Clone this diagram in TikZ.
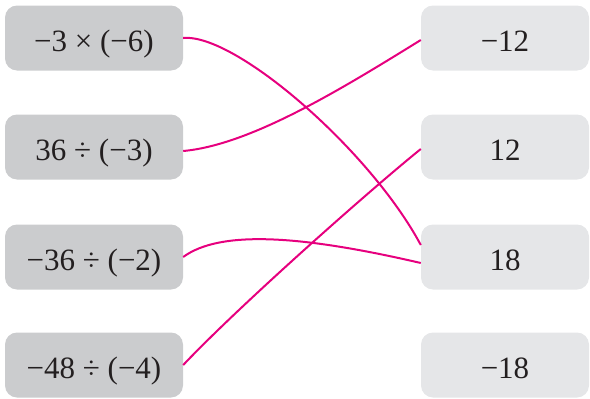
\documentclass[tikz,border=0pt]{standalone}
\usepackage{fontspec}
\setmainfont{Liberation Serif}
\definecolor{leftgray}{HTML}{CBCCCE}
\definecolor{rightgray}{HTML}{E5E6E8}
\definecolor{linkpink}{HTML}{E6007E}
\definecolor{txt}{HTML}{231F20}
\begin{document}
\begin{tikzpicture}[x=1pt,y=-1pt,
  boxtext/.style={inner sep=0pt,text=txt,text height=27pt,text depth=0pt,font=\fontsize{31}{34}\selectfont},
  lbox/.style={boxtext,fill=leftgray,rounded corners=12pt,minimum width=178pt,minimum height=65pt},
  rbox/.style={boxtext,fill=rightgray,rounded corners=12pt,minimum width=168pt,minimum height=65pt},
  link/.style={draw=linkpink,line width=2pt}]
\useasboundingbox (0,0) rectangle (590,399);
\node[lbox] (L1) at (94,38) {−3 × (−6)};
\node[lbox] (L2) at (94,147) {36 ÷ (−3)};
\node[lbox] (L3) at (94,257) {−36 ÷ (−2)};
\node[lbox] (L4) at (94,365) {−48 ÷ (−4)};
\node[rbox] (R1) at (505,38) {−12};
\node[rbox] (R2) at (505,147) {12};
\node[rbox] (R3) at (505,257) {18};
\node[rbox] (R4) at (505,365) {−18};
\coordinate (a1) at (L1.east);
\coordinate (b1) at ([yshift=12pt]R3.west);
\draw[link] (a1) .. controls (235,33) and (370,150) .. (b1);
\coordinate (a2) at ([yshift=-4pt]L2.east);
\coordinate (b2) at ([yshift=-2pt]R1.west);
\draw[link] (a2) .. controls (250,145) and (340,90) .. (b2);
\coordinate (a3) at (L3.east);
\coordinate (b3) at ([yshift=-6pt]R3.west);
\draw[link] (a3) .. controls (220,230) and (300,235) .. (b3);
\coordinate (a4) at (L4.east);
\coordinate (b4) at ([yshift=-2pt]R2.west);
\draw[link] (a4) .. controls (240,305) and (370,190) .. (b4);
\end{tikzpicture}
\end{document}
